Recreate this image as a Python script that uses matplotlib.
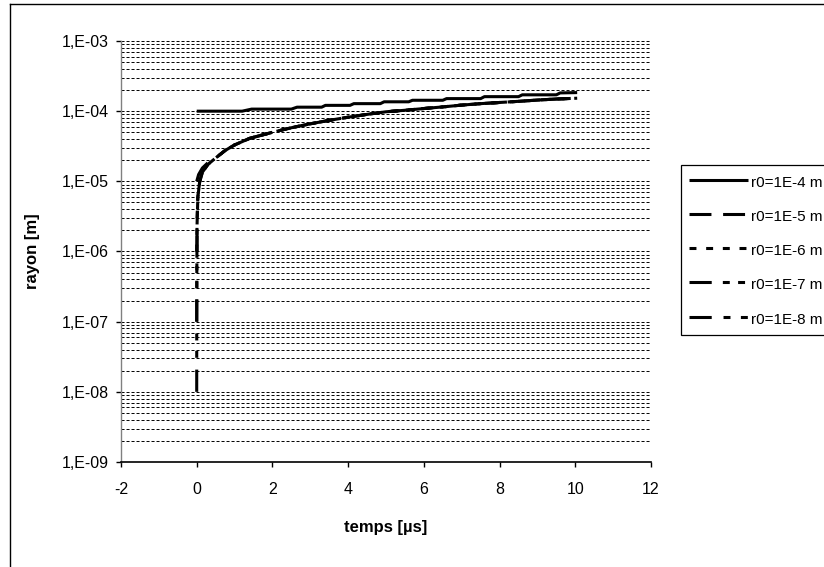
import numpy as np
import matplotlib
matplotlib.use("Agg")
import matplotlib.pyplot as plt
from matplotlib.ticker import FixedLocator, FuncFormatter, NullFormatter
from matplotlib.lines import Line2D

plt.rcParams['font.family'] = ['Liberation Sans', 'DejaVu Sans']
plt.rcParams['lines.scale_dashes'] = False
plt.rcParams['axes.unicode_minus'] = False

# =========================
# DATA
# =========================
LABELS = ["r0=1E-4 m", "r0=1E-5 m", "r0=1E-6 m", "r0=1E-7 m", "r0=1E-8 m"]

# r0 = 1E-4 : slow staircase growth
T_4 = [0, 1.2, 1.45, 2.5, 2.65, 3.3, 3.4, 4.05, 4.15, 4.85, 4.95, 5.6, 5.7,
       6.5, 6.6, 7.5, 7.6, 8.5, 8.6, 9.5, 9.6, 10.05]
R_4 = [1.00e-4, 1.00e-4, 1.07e-4, 1.07e-4, 1.14e-4, 1.14e-4, 1.21e-4, 1.21e-4,
       1.28e-4, 1.28e-4, 1.36e-4, 1.36e-4, 1.43e-4, 1.43e-4, 1.51e-4, 1.51e-4,
       1.61e-4, 1.61e-4, 1.71e-4, 1.71e-4, 1.82e-4, 1.84e-4]

# common tail the small bubbles all follow
T_TAIL = [0.5, 0.75, 1.0, 1.4, 2.0, 2.5, 3.0, 3.5, 4.0, 4.5, 5.0, 5.5, 6.0,
          6.5, 7.0, 7.5, 8.0, 8.5, 9.0, 9.5, 10.05]
R_TAIL = [2.15e-5, 2.75e-5, 3.3e-5, 4.1e-5, 5.0e-5, 5.8e-5, 6.6e-5, 7.4e-5,
          8.2e-5, 9.0e-5, 9.8e-5, 1.03e-4, 1.09e-4, 1.15e-4, 1.22e-4, 1.28e-4,
          1.33e-4, 1.38e-4, 1.44e-4, 1.49e-4, 1.53e-4]

T_5 = [0, 0.05, 0.15, 0.3] + T_TAIL
R_5 = [1.0e-5, 1.25e-5, 1.55e-5, 1.85e-5] + R_TAIL

T_6 = [0, 0.01, 0.03, 0.08, 0.15, 0.3] + T_TAIL
R_6 = [1.0e-6, 3.0e-6, 6.0e-6, 1.0e-5, 1.35e-5, 1.75e-5] + R_TAIL

T_7 = [0, 0.003, 0.01, 0.03, 0.08, 0.15, 0.3] + T_TAIL
R_7 = [1.0e-7, 5.0e-7, 2.5e-6, 6.0e-6, 1.0e-5, 1.35e-5, 1.75e-5] + R_TAIL

T_8 = [0, 0.001, 0.003, 0.01, 0.03, 0.08, 0.15, 0.3] + T_TAIL
R_8 = [1.0e-8, 8.0e-8, 5.0e-7, 2.5e-6, 6.0e-6, 1.0e-5, 1.35e-5, 1.75e-5] + R_TAIL

X_TICKS = [-2, 0, 2, 4, 6, 8, 10, 12]
Y_EXPS = [-9, -8, -7, -6, -5, -4, -3]

# dash patterns in points (Excel-like)
STYLES = [
    "-",
    (0, (15.8, 8.4)),
    (0, (5.0, 7.0)),
    (0, (16.0, 8.0, 5.0, 6.0, 5.0, 6.0)),
    (0, (16.0, 8.5, 5.0, 7.5, 5.0, 8.5)),
]


def fmt_y(v, pos):
    e = int(round(np.log10(v)))
    return f"1,E-{abs(e):02d}"


def main():
    W, H = 824, 567
    fig = plt.figure(figsize=(W / 100, H / 100), dpi=100)
    fig.patch.set_facecolor("white")

    # plot area in pixels: x 121..651, y 41..462
    ax = fig.add_axes([121 / W, 1 - 462 / H, (651 - 121) / W, (462 - 41) / H])

    series = [(T_4, R_4), (T_5, R_5), (T_6, R_6), (T_7, R_7), (T_8, R_8)]
    for (t, r), lab, ls in zip(series, LABELS, STYLES):
        ax.plot(t, r, color="black", lw=2.2, linestyle=ls, label=lab,
                solid_capstyle="butt", dash_capstyle="butt")

    ax.set_yscale("log")
    ax.set_ylim(1e-9, 1e-3)
    ax.set_xlim(-2, 12)
    ax.set_xticks(X_TICKS)
    ax.yaxis.set_major_locator(FixedLocator([10.0 ** e for e in Y_EXPS]))
    ax.yaxis.set_major_formatter(FuncFormatter(fmt_y))
    minors = [m * 10.0 ** e for e in Y_EXPS[:-1] for m in range(2, 10)]
    ax.yaxis.set_minor_locator(FixedLocator(minors))
    ax.yaxis.set_minor_formatter(NullFormatter())

    ax.grid(True, which="both", axis="y", color="black", lw=0.7,
            linestyle=(0, (2.2, 1.4)))
    ax.set_axisbelow(True)

    for s in ["top", "right"]:
        ax.spines[s].set_visible(False)
    ax.spines["left"].set_color("#808080")
    ax.spines["left"].set_linewidth(1.0)
    ax.spines["bottom"].set_color("black")
    ax.spines["bottom"].set_linewidth(1.2)

    ax.tick_params(axis="both", which="major", direction="out", length=3.6,
                   width=1, color="black", labelsize=11.5)
    ax.tick_params(axis="x", pad=10.5)
    ax.tick_params(axis="y", pad=5.0)
    ax.tick_params(axis="y", which="minor", length=0)

    ax.set_xlabel("temps [µs]", fontsize=12, fontweight="bold")
    ax.xaxis.set_label_coords(0.5, -0.138)
    ax.set_ylabel("rayon [m]", fontsize=12, fontweight="bold")
    ax.yaxis.set_label_coords(-0.153, 0.5)

    leg = ax.legend(loc="upper left", bbox_to_anchor=(681 / W, 1 - 165 / H),
                    bbox_transform=fig.transFigure, borderaxespad=0,
                    fontsize=11, handlelength=3.9, handleheight=1.45,
                    labelspacing=1.05, borderpad=0.51, handletextpad=0.2,
                    fancybox=False, shadow=False, framealpha=1)
    leg.get_frame().set_edgecolor("black")
    leg.get_frame().set_linewidth(0.9)

    # outer chart border (left and top visible in the crop)
    fig.add_artist(Line2D([10 / W, 10 / W], [0, 1 - 4 / H],
                          transform=fig.transFigure, color="black", lw=1.0))
    fig.add_artist(Line2D([10 / W, 1], [1 - 4 / H, 1 - 4 / H],
                          transform=fig.transFigure, color="black", lw=1.0))

    fig.savefig("out.png", dpi=100)


if __name__ == "__main__":
    main()
